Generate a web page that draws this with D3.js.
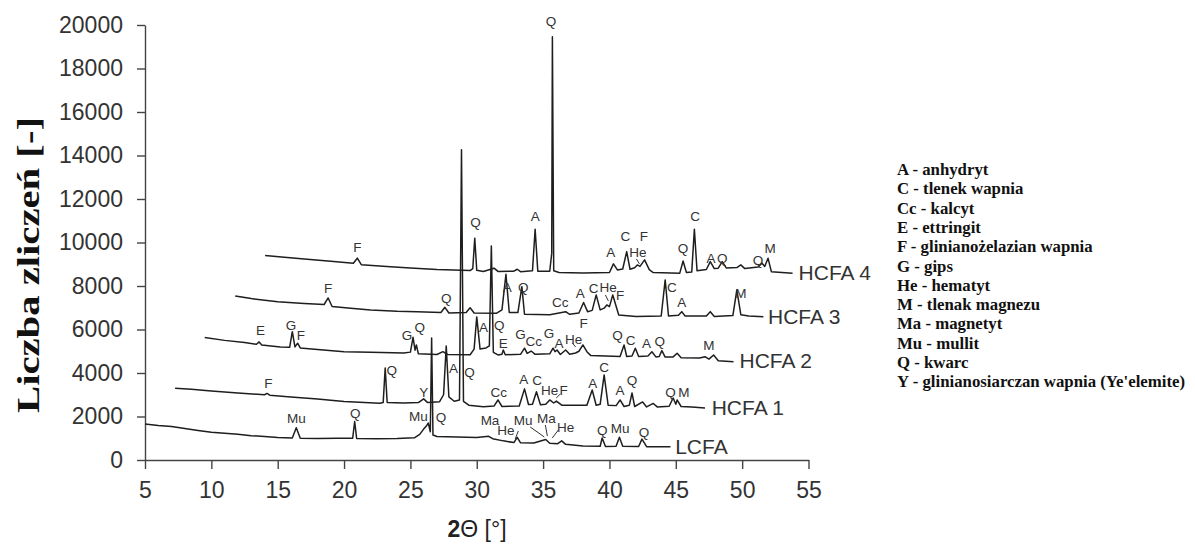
<!DOCTYPE html>
<html>
<head>
<meta charset="utf-8">
<script src="https://cdn.jsdelivr.net/npm/d3@7"></script>
<style>
  html, body { margin: 0; padding: 0; background: #fff; }
  svg { display: block; }
</style>
</head>
<body>
<svg id="chart" width="1195" height="544"></svg>
<script>
// Axis ticks
const xTicks = [5, 10, 15, 20, 25, 30, 35, 40, 45, 50, 55];
const yTicks = [0, 2000, 4000, 6000, 8000, 10000, 12000, 14000, 16000, 18000, 20000];

// Diffractograms: [2θ, counts], each pattern shifted along 2θ and intensity
const seriesNames = ["LCFA", "HCFA 1", "HCFA 2", "HCFA 3", "HCFA 4"];

const lcfa = [
  [5.0,1660],[6.0,1590],[7.0,1540],[8.0,1450],[9.0,1360],[10.0,1280],[11.0,1230],[12.0,1180],
  [13.0,1120],[14.0,1080],[15.0,1030],[16.1,1010],[16.4,1480],[16.7,1000],[18.0,990],[19.5,1000],
  [20.65,1000],[20.8,1770],[20.95,990],[22.5,980],[24.0,990],[25.3,1020],[25.7,1180],[26.0,1420],
  [26.2,1560],[26.35,1700],[26.5,1300],[26.6,5610],[26.7,1150],[27.0,1080],[28.5,1060],[30.0,1030],
  [30.9,1090],[31.2,980],[32.0,880],[32.8,800],[33.05,1040],[33.3,790],[34.3,780],[35.2,940],
  [35.5,770],[36.1,750],[36.4,880],[36.7,720],[38.0,640],[39.3,630],[39.45,1010],[39.7,620],
  [40.5,630],[40.75,1050],[41.0,630],[42.2,620],[42.45,960],[42.8,610],[44.6,610]
];

const hcfa1 = [
  [7.27,3300],[8.5,3250],[10,3170],[12,3080],[14.0,3000],[14.2,3060],[14.4,2980],[16,2900],
  [18,2800],[20,2690],[22.7,2610],[22.95,2640],[23.1,4230],[23.25,2640],[24.5,2620],[25.6,2640],
  [26.0,2810],[26.3,2640],[27.2,2680],[27.5,3000],[27.7,5240],[27.9,2900],[28.3,2700],[28.7,2760],
  [28.85,14260],[29.0,2700],[29.4,2520],[30.5,2450],[31.3,2480],[31.6,2760],[31.9,2460],[33.2,2480],
  [33.6,3270],[33.9,2550],[34.2,2560],[34.5,3140],[34.8,2540],[35.2,2560],[35.5,2760],[35.8,2620],
  [36.0,2710],[36.4,2520],[38.3,2520],[38.7,3220],[39.0,2520],[39.3,2560],[39.6,3910],[39.9,2520],
  [40.5,2500],[40.8,2760],[41.1,2460],[41.5,2520],[41.7,3080],[41.9,2460],[42.5,2670],[42.8,2440],
  [43.3,2600],[43.6,2440],[44.5,2470],[44.8,2850],[45.0,2560],[45.1,2760],[45.4,2460],[46.2,2440],
  [47.2,2390]
];

const hcfa2 = [
  [9.5,5630],[11,5500],[12.5,5400],[13.4,5320],[13.6,5430],[13.8,5290],[15.2,5200],[15.9,5180],
  [16.1,5900],[16.3,5200],[16.5,5370],[16.7,5150],[18,5080],[20,4980],[22,4950],[24.5,4920],
  [25.0,4960],[25.2,5640],[25.35,5050],[25.45,5290],[25.6,4880],[27.0,4850],[27.45,4980],[27.8,4850],
  [29.5,4840],[29.8,5100],[30.0,6580],[30.25,5100],[30.7,5150],[30.95,5250],[31.1,9840],[31.25,4950],
  [31.6,4830],[31.9,4860],[32.0,5060],[32.15,4840],[33.3,4860],[33.6,5140],[33.8,4900],[34.1,5010],
  [34.4,4860],[35.5,4880],[35.75,5140],[35.9,4980],[36.05,5060],[36.3,4850],[36.7,5060],[37.0,4860],
  [37.45,4920],[37.7,5000],[38.0,5290],[38.3,4980],[38.6,4800],[40.8,4760],[41.1,5290],[41.3,4760],
  [41.7,4780],[41.95,5140],[42.2,4760],[42.9,4780],[43.2,4980],[43.5,4740],[43.75,4760],[43.95,5030],
  [44.2,4730],[44.8,4740],[45.1,4910],[45.4,4700],[46.8,4690],[47.2,4750],[47.5,4640],[47.85,4830],
  [48.2,4560],[49.35,4520]
];

const hcfa3 = [
  [11.8,7540],[13,7420],[15,7280],[17,7200],[18.5,7150],[18.8,7450],[19.1,7060],[20.5,6980],
  [22,6900],[24,6840],[25.5,6820],[27.3,6780],[27.6,7020],[27.9,6760],[29.2,6780],[29.5,7000],
  [29.8,6760],[31.5,6750],[31.9,6900],[32.2,8540],[32.45,6780],[33.1,6780],[33.4,7970],[33.6,6700],
  [35.5,6680],[36.7,6820],[37.0,6700],[37.7,6760],[38.05,7240],[38.35,6820],[38.7,6880],[39.0,7590],
  [39.3,6900],[39.6,6980],[39.8,7130],[40.0,7050],[40.25,7590],[40.7,6670],[42,6600],[43.9,6620],
  [44.2,8280],[44.45,6620],[45.2,6650],[45.45,6820],[45.7,6620],[47.3,6620],[47.6,6820],[47.9,6600],
  [49.3,6640],[49.6,7820],[49.9,6680],[50.5,6620],[51.6,6590]
];

const hcfa4 = [
  [14.05,9400],[15.5,9320],[17,9240],[19,9140],[20.7,9050],[21.0,9280],[21.3,8980],[23.5,8890],
  [25,8830],[27,8760],[29.5,8710],[29.7,8800],[29.85,10200],[30.0,8720],[30.5,8670],[31.3,8820],
  [31.6,8670],[32.8,8680],[33.05,8770],[33.3,8660],[34.2,8700],[34.4,10610],[34.6,8680],[35.5,8680],
  [35.65,9500],[35.7,19460],[35.8,8700],[36.2,8620],[38,8600],[40.0,8620],[40.3,9020],[40.6,8740],
  [41.0,8780],[41.3,9580],[41.55,8770],[41.9,8840],[42.1,8970],[42.3,8900],[42.65,9200],[43.0,8750],
  [43.3,8620],[45.3,8590],[45.55,9150],[45.8,8620],[46.2,8640],[46.4,10610],[46.6,8700],[47.3,8760],
  [47.6,9120],[47.9,8800],[48.2,8820],[48.5,9120],[48.8,8830],[49.6,8850],[49.9,8970],[50.2,8800],
  [51.2,8870],[51.5,9050],[51.7,8900],[51.95,9280],[52.2,8660],[53.0,8620],[53.8,8590]
];

const seriesData = [lcfa, hcfa1, hcfa2, hcfa3, hcfa4];

// Series name tags at the end of each pattern: [2θ, counts]
const seriesTagAt = [[44.95, 620], [47.7, 2400], [49.8, 4560], [51.95, 6580], [54.25, 8620]];

// Phase identification labels: [label, 2θ, counts]
const phaseLabels = [
  // HCFA 4
  ["F",21.0,9800],["Q",29.9,10950],["A",34.4,11220],["Q",35.6,20200],["A",40.1,9540],["C",41.2,10270],
  ["He",42.15,9540],["F",42.6,10270],["Q",45.55,9740],["C",46.45,11190],["A",47.65,9280],["Q",48.5,9280],
  ["Q",51.2,9200],["M",52.1,9720],
  // HCFA 3
  ["F",18.8,7900],["Q",27.7,7430],["A",32.3,7970],["Q",33.5,7970],["Cc",36.3,7270],["A",37.8,7670],
  ["C",38.8,7900],["He",39.9,7970],["F",40.8,7590],["C",44.7,7970],["A",45.45,7270],["M",49.9,7670],
  // HCFA 2
  ["E",13.7,5950],["G",16.0,6210],["F",16.75,5750],["G",24.75,5750],["Q",25.7,6130],["A",30.5,6130],
  ["Q",31.7,6210],["E",32.0,5380],["G",33.3,5800],["Cc",34.3,5450],["G",35.45,5820],["A",36.2,5360],
  ["He",37.3,5560],["F",38.05,6280],["Q",40.6,5750],["C",41.6,5520],["A",42.8,5370],["Q",43.8,5450],
  ["M",47.5,5290],
  // HCFA 1
  ["F",14.3,3530],["Q",23.6,4140],["Y",26.0,3140],["A",28.25,4220],["Q",29.45,4060],["Cc",31.65,3140],
  ["A",33.55,3710],["C",34.55,3680],["He",35.5,3190],["F",36.55,3220],["A",38.75,3530],["C",39.6,4290],
  ["A",40.8,3220],["Q",41.7,3680],["Q",44.6,3140],["M",45.6,3140],
  // LCFA
  ["Mu",16.4,1920],["Q",20.84,2150],["Mu",25.6,2020],["Q",27.3,1960],["Ma",31.0,1810],["He",32.2,1350],
  ["Mu",33.5,1810],["Ma",35.25,1920],["He",36.7,1530],["Q",39.45,1380],["Mu",40.8,1460],["Q",42.6,1300]
];

// Short leader strokes from a label to its reflection: [2θ1, counts1, 2θ2, counts2]
const leaders = [
  [32.9,966,33.13,1334],[34.03,1518,35.09,1058],[35.17,1610,35.32,1104],[36.15,1380,35.69,1012],
  [35.99,2852,36.3,3036],[37.2,5382,37.45,5198],[39.69,7590,39.92,7314],[42.03,9246,42.26,9016]
];

// Legend of phase abbreviations
const legendItems = [
  "A - anhydryt", "C - tlenek wapnia", "Cc - kalcyt", "E - ettringit",
  "F - glinianożelazian wapnia", "G - gips", "He - hematyt", "M - tlenak magnezu",
  "Ma - magnetyt", "Mu - mullit", "Q - kwarc", "Y - glinianosiarczan wapnia (Ye'elemite)"
];

const svg = d3.select("#chart");
svg.append("rect").attr("width", 1195).attr("height", 544).attr("fill", "#fff");

const x = d3.scaleLinear().domain([5, 55]).range([145, 808.5]);
const y = d3.scaleLinear().domain([0, 20000]).range([460, 25]);

const axisColor = "#444";
const textColor = "#333";
const sans = "'Liberation Sans', Arial, sans-serif";
const serif = "'Liberation Serif', 'Times New Roman', serif";

// Axes
const gy = svg.append("g").attr("transform", "translate(145,0)")
  .call(d3.axisLeft(y).tickValues(yTicks).tickSize(8).tickSizeOuter(0).tickPadding(14).tickFormat(d3.format("d")));
const gx = svg.append("g").attr("transform", "translate(0,460)")
  .call(d3.axisBottom(x).tickValues(xTicks).tickSize(9).tickSizeOuter(0).tickPadding(13).tickFormat(d3.format("d")));
[gx, gy].forEach(g => {
  g.select(".domain").attr("stroke", axisColor).attr("stroke-width", 1.4);
  g.selectAll(".tick line").attr("stroke", axisColor).attr("stroke-width", 1.4);
  g.selectAll(".tick text").attr("fill", textColor).style("font-family", sans).style("font-size", "23px");
});

// Patterns
const line = d3.line().x(d => x(d[0])).y(d => y(d[1]));
svg.append("g").selectAll("path").data(seriesData).join("path")
  .attr("d", line)
  .attr("fill", "none")
  .attr("stroke", "#1e1e1e")
  .attr("stroke-width", 1.5)
  .attr("stroke-linejoin", "round");

// Series tags
svg.append("g").selectAll("text").data(seriesNames).join("text")
  .attr("x", (d, i) => x(seriesTagAt[i][0]))
  .attr("y", (d, i) => y(seriesTagAt[i][1]))
  .attr("dy", "0.36em")
  .attr("fill", textColor)
  .style("font-family", sans).style("font-size", "21px")
  .text(d => d);

// Phase labels
svg.append("g").selectAll("text").data(phaseLabels).join("text")
  .attr("x", d => x(d[1]))
  .attr("y", d => y(d[2]))
  .attr("dy", "0.36em")
  .attr("text-anchor", "middle")
  .attr("fill", textColor)
  .style("font-family", sans).style("font-size", "13.5px")
  .text(d => d[0]);

svg.append("g").selectAll("line").data(leaders).join("line")
  .attr("x1", d => x(d[0])).attr("y1", d => y(d[1]))
  .attr("x2", d => x(d[2])).attr("y2", d => y(d[3]))
  .attr("stroke", "#333").attr("stroke-width", 1);

// Axis titles
svg.append("text")
  .attr("transform", "translate(39,265) rotate(-90)")
  .attr("text-anchor", "middle")
  .attr("fill", "#111")
  .attr("textLength", 296).attr("lengthAdjust", "spacingAndGlyphs")
  .style("font-family", serif).style("font-weight", "bold").style("font-size", "32px")
  .text("Liczba zliczeń [-]");

const xt = svg.append("text")
  .attr("x", 477).attr("y", 537)
  .attr("text-anchor", "middle")
  .attr("fill", "#222")
  .style("font-family", sans).style("font-size", "23px");
xt.append("tspan").style("font-weight", "bold").text("2");
xt.append("tspan").text("Θ [°]");

// Legend
svg.append("g").selectAll("text").data(legendItems).join("text")
  .attr("x", 897)
  .attr("y", (d, i) => 175 + i * 19.3)
  .attr("fill", "#111")
  .style("font-family", serif).style("font-weight", "bold").style("font-size", "16.8px")
  .text(d => d);
</script>
</body>
</html>
